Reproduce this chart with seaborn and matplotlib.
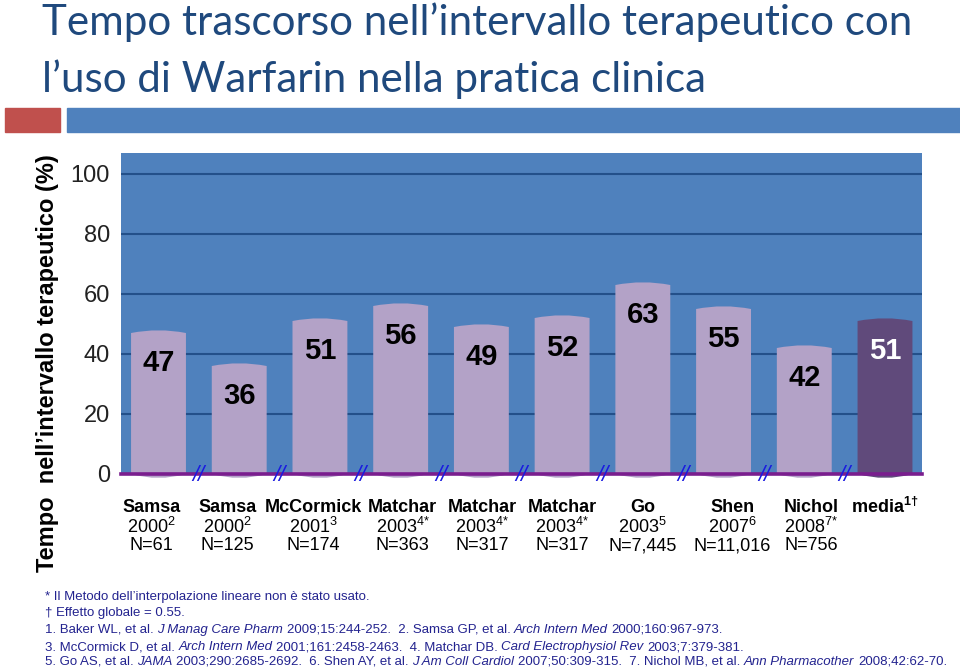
import matplotlib
matplotlib.use("Agg")
import matplotlib.pyplot as plt
import seaborn as sns
import pandas as pd
from matplotlib.patches import Rectangle, PathPatch
from matplotlib.path import Path

# ---------------- data ----------------
studies = ["Samsa", "Samsa", "McCormick", "Matchar", "Matchar", "Matchar", "Go", "Shen", "Nichol", "media"]
years = ["2000", "2000", "2001", "2003", "2003", "2003", "2003", "2007", "2008", ""]
refs = ["2", "2", "3", "4{*}", "4{*}", "4{*}", "5", "6", "7{*}", "1\u2020"]
sizes = ["N=61", "N=125", "N=174", "N=363", "N=317", "N=317", "N=7,445", "N=11,016", "N=756", ""]
ttr = [47, 36, 51, 56, 49, 52, 63, 55, 42, 51]
y_ticks = [0, 20, 40, 60, 80, 100]

title_lines = ["Tempo trascorso nell\u2019intervallo terapeutico con",
               "l\u2019uso di Warfarin nella pratica clinica"]
y_label = "Tempo  nell\u2019intervallo terapeutico (%)"

footnotes = [
    [("* Il Metodo dell\u2019interpolazione lineare non \u00e8 stato usato.", "normal")],
    [("\u2020 Effetto globale = 0.55.", "normal")],
    [("1. Baker WL, et al. ", "normal"), ("J Manag Care Pharm", "italic"),
     (" 2009;15:244-252.  2. Samsa GP, et al. ", "normal"), ("Arch Intern Med", "italic"),
     (" 2000;160:967-973.", "normal")],
    [("3. McCormick D, et al. ", "normal"), ("Arch Intern Med", "italic"),
     (" 2001;161:2458-2463.  4. Matchar DB. ", "normal"), ("Card Electrophysiol Rev", "italic"),
     (" 2003;7:379-381.", "normal")],
    [("5. Go AS, et al. ", "normal"), ("JAMA", "italic"),
     (" 2003;290:2685-2692.  6. Shen AY, et al. ", "normal"), ("J Am Coll Cardiol", "italic"),
     (" 2007;50:309-315.  7. Nichol MB, et al. ", "normal"), ("Ann Pharmacother", "italic"),
     (" 2008;42:62-70.", "normal")],
]

# ---------------- style / layout ----------------
W, H = 960, 671
plt.rcParams["font.family"] = ["Liberation Sans", "DejaVu Sans"]
plt.rcParams["mathtext.fontset"] = "custom"
plt.rcParams["mathtext.rm"] = "Liberation Sans"
plt.rcParams["mathtext.it"] = "Liberation Sans:italic"
plt.rcParams["mathtext.bf"] = "Liberation Sans:bold"

BG_BLUE = "#4F81BD"
GRID = "#23508A"
LIGHT = "#B3A2C7"
DARK = "#604A7B"
TITLE_C = "#1F497D"
NOTE_C = "#23238F"
label_nudge_px = [-7, -12, -7, 2, 1, 0, 0, 9, 7, 0]   # small manual label offsets

fig = plt.figure(figsize=(W / 100, H / 100), dpi=100)
fig.patch.set_facecolor("white")
renderer = fig.canvas.get_renderer()

def fx(px):
    return px / W

def fy(py):
    return 1 - py / H

# decorative header bars
fig.patches.append(Rectangle((fx(5), fy(132)), fx(60) - fx(5), fy(108) - fy(132),
                             transform=fig.transFigure, color="#C0504D", zorder=0))
fig.patches.append(Rectangle((fx(67), fy(132)), 1 - fx(67), fy(108) - fy(132),
                             transform=fig.transFigure, color="#4F81BD", zorder=0))

def text_width(t):
    return t.get_window_extent(renderer).width

# title, fit line 1 to its width
t1 = fig.text(fx(42), fy(35), title_lines[0], fontsize=28, family=["Lato", "DejaVu Sans"],
              color=TITLE_C, ha="left", va="baseline")
fs_title = 28 * (913 - 42) / text_width(t1)
t1.set_fontsize(fs_title)
fig.text(fx(42), fy(92), title_lines[1], fontsize=fs_title, family=["Lato", "DejaVu Sans"],
         color=TITLE_C, ha="left", va="baseline")

# ---------------- chart ----------------
AX_L, AX_R, AX_T, AX_B = 121, 922, 153, 474
ax = fig.add_axes([fx(AX_L), fy(AX_B), fx(AX_R) - fx(AX_L), fy(AX_T) - fy(AX_B)])
keys = [f"{i}" for i in range(len(ttr))]
df = pd.DataFrame({"key": keys, "ttr": ttr})
colors = [LIGHT] * (len(ttr) - 1) + [DARK]
sns.barplot(data=df, x="key", y="ttr", hue="key", order=keys, hue_order=keys,
            palette=colors, saturation=1, width=0.68, legend=False, ax=ax, zorder=2)

# first bar centre at 158.5 px, last at 885 px
step = (885 - 158.5) / (len(ttr) - 1)
ax.set_xlim(-(158.5 - AX_L) / step, (len(ttr) - 1) + (AX_R - 885) / step)
ax.set_ylim(0, 107)
ax.set_facecolor(BG_BLUE)
ax.set_yticks(y_ticks)
ax.yaxis.grid(True, color=GRID, linewidth=1.5)
ax.xaxis.grid(False)
ax.set_axisbelow(True)
for s in ax.spines.values():
    s.set_visible(False)
ax.tick_params(axis="y", length=0, labelsize=17, pad=8, labelcolor="#222222")
ax.tick_params(axis="x", length=0, labelbottom=False)
ax.set_xlabel("")
ax.set_ylabel("")

# give the bars the soft rounded top / bottom of the original
for p in list(ax.patches):
    x0, w, h = p.get_x(), p.get_width(), p.get_height()
    if h <= 0:
        continue
    top_b, bot_b = 0.9, 1.3
    verts = [(x0, 0), (x0, h), (x0 + w / 2, h + 2 * top_b), (x0 + w, h),
             (x0 + w, 0), (x0 + w / 2, -2 * bot_b), (x0, 0), (x0, 0)]
    codes = [Path.MOVETO, Path.LINETO, Path.CURVE3, Path.CURVE3,
             Path.LINETO, Path.CURVE3, Path.CURVE3, Path.CLOSEPOLY]
    pp = PathPatch(Path(verts, codes), facecolor=p.get_facecolor(), edgecolor="none",
                   zorder=2, clip_on=False)
    ax.add_patch(pp)
    p.set_visible(False)

ax.axhline(0, color="#7A1E8E", linewidth=2.6, zorder=4, clip_on=False)

# value labels
for i, v in enumerate(ttr):
    ax.text(i, v - 9.9, f"{v}", ha="center", va="center", fontsize=21, fontweight="bold",
            color="white" if i == len(ttr) - 1 else "black", zorder=5)

# axis break marks
for i in range(len(ttr) - 1):
    ax.text(i + 0.5, -0.6, "//", ha="center", va="center", fontsize=16, style="italic",
            color="#1A1AE0", zorder=6, clip_on=False)

# category labels
tr = ax.get_xaxis_transform()
def ay(py):
    return (fy(py) - fy(AX_B)) / (fy(AX_T) - fy(AX_B))

for i in range(len(ttr)):
    xi = i + label_nudge_px[i] / step
    if studies[i] == "media":
        ax.text(xi, ay(507), "media$^{\\mathbf{" + refs[i] + "}}$", transform=tr, ha="center",
                va="center", fontsize=13, fontweight="bold", color="black")
        continue
    ax.text(xi, ay(507), studies[i], transform=tr, ha="center", va="center",
            fontsize=13, fontweight="bold", color="black")
    ax.text(xi, ay(527), years[i] + "$^{" + refs[i] + "}$", transform=tr, ha="center",
            va="center", fontsize=13, color="black")
    ax.text(xi, ay(546), sizes[i], transform=tr, ha="center", va="center",
            fontsize=13, color="black")

# y label
fig.text(fx(48), fy(363), y_label, rotation=90, ha="center", va="center",
         fontsize=17, fontweight="bold", color="black")

# ---------------- footnotes ----------------
def adv(s, fs, style):
    a = fig.text(0, 0, "X" + s + "X", fontsize=fs, style=style)
    b = fig.text(0, 0, "XX", fontsize=fs, style=style)
    r = text_width(a) - text_width(b)
    a.remove(); b.remove()
    return r

def line_width(segs, fs):
    return sum(adv(s, fs, st) for s, st in segs)

fs_note = 8.5 * (943 - 45) / line_width(footnotes[4], 8.5)
note_y = [597, 613, 630, 647, 662]
for segs, py in zip(footnotes, note_y):
    x = 45
    for s, st in segs:
        lead = len(s) - len(s.lstrip(" "))
        xoff = adv(" " * lead, fs_note, st) if lead else 0
        if s.strip():
            fig.text(fx(x + xoff), fy(py), s.strip(), fontsize=fs_note, style=st,
                     color=NOTE_C, ha="left", va="center")
        x += adv(s, fs_note, st)

fig.savefig("out.png", dpi=100)
